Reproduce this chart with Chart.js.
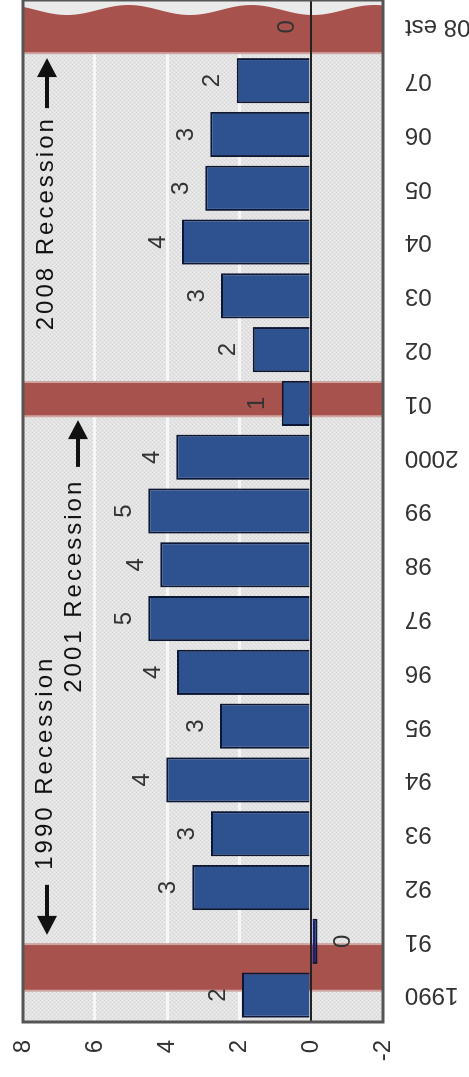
<!DOCTYPE html>
<html>
<head>
<meta charset="utf-8">
<script src="https://cdn.jsdelivr.net/npm/chart.js@4.4.1/dist/chart.umd.min.js"></script>
<style>
    html, body { margin: 0; padding: 0; background: #fff; overflow: hidden; }
    /* o grafico original e horizontal; aqui ele e girado 90 graus (anti-horario) */
    #wrap {
        position: absolute; left: 0; top: 0;
        width: 1077px; height: 469px;
        transform-origin: 0 0;
        transform: translateY(1077px) rotate(-90deg);
    }
</style>
</head>
<body>
<div id="wrap"><canvas id="grafico" width="1077" height="469"></canvas></div>
<script>
// --- DADOS ---
const anos = ['1990', '91', '92', '93', '94', '95', '96', '97', '98', '99',
              '2000', '01', '02', '03', '04', '05', '06', '07', '08 est'];
const crescimento = [1.92, -0.18, 3.3, 2.78, 4.02, 2.53, 3.72, 4.52, 4.19, 4.52,
                     3.74, 0.81, 1.62, 2.5, 3.58, 2.94, 2.8, 2.06, 0];
const rotulos = ['2', '0', '3', '3', '4', '3', '4', '5', '4', '5',
                 '4', '1', '2', '3', '4', '3', '3', '2', '0'];
const ticksValor = [-2, 0, 2, 4, 6, 8];

// recessoes em posicao de categoria (indice fracionario do ano)
const recessaoInicio = [0.1, 10.78, 17.53];
const recessaoFim = [0.93, 11.38, 18.6];
const recessaoNomes = ['1990 Recession', '2001 Recession', '2008 Recession'];

const FONTE = '"Liberation Sans", Arial, sans-serif';

// textura pontilhada do fundo
const texturaFundo = (() => {
    const c = document.createElement('canvas');
    c.width = 4; c.height = 4;
    const g = c.getContext('2d');
    g.fillStyle = '#e4e3e3'; g.fillRect(0, 0, 4, 4);
    g.fillStyle = '#d8d6d6'; g.fillRect(0, 0, 1, 1); g.fillRect(2, 2, 1, 1);
    g.fillStyle = '#efeeee'; g.fillRect(2, 0, 1, 1); g.fillRect(0, 2, 1, 1);
    return c;
})();

function seta(ctx, x0, x1, y) {
    const dir = Math.sign(x1 - x0);
    ctx.lineWidth = 4;
    ctx.beginPath();
    ctx.moveTo(x0, y);
    ctx.lineTo(x1 - dir * 16, y);
    ctx.stroke();
    ctx.beginPath();
    ctx.moveTo(x1, y);
    ctx.lineTo(x1 - dir * 19, y - 10);
    ctx.lineTo(x1 - dir * 19, y + 10);
    ctx.closePath();
    ctx.fill();
}

const fundoPlugin = {
    id: 'fundo',
    beforeDraw(chart) {
        const { ctx, chartArea: a } = chart;
        ctx.save();
        ctx.fillStyle = ctx.createPattern(texturaFundo, 'repeat');
        ctx.fillRect(a.left, a.top, a.width, a.height);
        ctx.restore();
    },
    beforeDatasetsDraw(chart) {
        const { ctx, chartArea: a, scales: { x, y } } = chart;
        ctx.save();
        // faixas de recessao (com borda rosada)
        recessaoInicio.forEach((ini, i) => {
            const x0 = x.getPixelForValue(ini);
            const x1 = Math.min(x.getPixelForValue(recessaoFim[i]), a.right);
            ctx.fillStyle = '#cfa5a2';
            ctx.fillRect(x0 - 2, a.top, x1 - x0 + 4, a.height);
            ctx.fillStyle = '#a8524e';
            ctx.fillRect(x0, a.top, x1 - x0, a.height);
        });
        // quebra ondulada no ano estimado
        ctx.fillStyle = '#ebeaea';
        ctx.beginPath();
        ctx.moveTo(a.right, a.top);
        for (let py = a.top; py <= a.bottom; py++) {
            ctx.lineTo(a.right - 10 - 5 * Math.cos(2 * Math.PI * (py - 67) / 123), py);
        }
        ctx.lineTo(a.right, a.bottom);
        ctx.closePath();
        ctx.fill();
        // linha do zero
        const y0 = y.getPixelForValue(0);
        ctx.strokeStyle = '#222';
        ctx.lineWidth = 2;
        ctx.beginPath();
        ctx.moveTo(a.left, y0);
        ctx.lineTo(a.right, y0);
        ctx.stroke();
        ctx.restore();
    },
    afterDatasetsDraw(chart) {
        const { ctx } = chart;
        const meta = chart.getDatasetMeta(0);
        ctx.save();
        ctx.font = '24px ' + FONTE;
        ctx.fillStyle = '#333';
        ctx.textAlign = 'center';
        ctx.textBaseline = 'middle';
        meta.data.forEach((bar, i) => {
            const py = crescimento[i] < 0 ? bar.y + 26 : bar.y - 24;
            ctx.fillText(rotulos[i], bar.x, py);
        });
        ctx.restore();
    },
    afterDraw(chart) {
        const { ctx, chartArea: a, scales: { x } } = chart;
        ctx.save();
        ctx.fillStyle = '#111';
        ctx.strokeStyle = '#111';
        ctx.font = '24px ' + FONTE;
        ctx.letterSpacing = '3px';
        ctx.textBaseline = 'middle';
        ctx.textAlign = 'left';

        // 1990: seta para a esquerda, depois o texto
        seta(ctx, x.getPixelForValue(2.05), x.getPixelForValue(1.12), a.top + 24);
        ctx.fillText(recessaoNomes[0], x.getPixelForValue(2.33), a.top + 22);
        // 2001: texto e seta para a direita
        ctx.fillText(recessaoNomes[1], x.getPixelForValue(5.62), a.top + 51);
        seta(ctx, x.getPixelForValue(9.82), x.getPixelForValue(10.69), a.top + 55);
        // 2008
        ctx.fillText(recessaoNomes[2], x.getPixelForValue(12.36), a.top + 23);
        seta(ctx, x.getPixelForValue(16.49), x.getPixelForValue(17.42), a.top + 24);

        // moldura
        ctx.strokeStyle = '#555';
        ctx.lineWidth = 3;
        ctx.strokeRect(a.left, a.top, a.width, a.height);
        ctx.restore();
    }
};

new Chart(document.getElementById('grafico'), {
    type: 'bar',
    data: {
        labels: anos,
        datasets: [{
            data: crescimento,
            backgroundColor: crescimento.map(v => v < 0 ? '#18207a' : '#2e5190'),
            borderColor: '#0c1733',
            borderWidth: 2,
            categoryPercentage: 1,
            barPercentage: 0.84
        }]
    },
    options: {
        responsive: false,
        animation: false,
        devicePixelRatio: 1,
        layout: { padding: { top: 23, right: 0, left: 0, bottom: 0 } },
        plugins: {
            legend: { display: false },
            tooltip: { enabled: false }
        },
        scales: {
            x: {
                grid: { display: false, drawTicks: false },
                border: { display: false },
                ticks: {
                    autoSkip: false,
                    minRotation: 90,
                    maxRotation: 90,
                    padding: 22,
                    color: '#333',
                    font: { family: FONTE, size: 24 }
                },
                afterFit(s) {
                    s.height = 86;
                    s.paddingLeft = 0;
                    s.paddingRight = 0;
                }
            },
            y: {
                min: -2,
                max: 8,
                afterBuildTicks(s) {
                    s.ticks = ticksValor.map(v => ({ value: v }));
                },
                grid: {
                    drawTicks: false,
                    lineWidth: 3,
                    color: c => (c.tick && (c.tick.value === 0 || c.tick.value === -2 || c.tick.value === 8))
                        ? 'rgba(0,0,0,0)' : '#f7f7f7'
                },
                border: { display: false },
                ticks: {
                    padding: 18,
                    color: '#333',
                    font: { family: FONTE, size: 24 }
                },
                afterFit(s) {
                    s.width = 55;
                    s.paddingTop = 0;
                    s.paddingBottom = 0;
                }
            }
        }
    },
    plugins: [fundoPlugin]
});
</script>
</body>
</html>
